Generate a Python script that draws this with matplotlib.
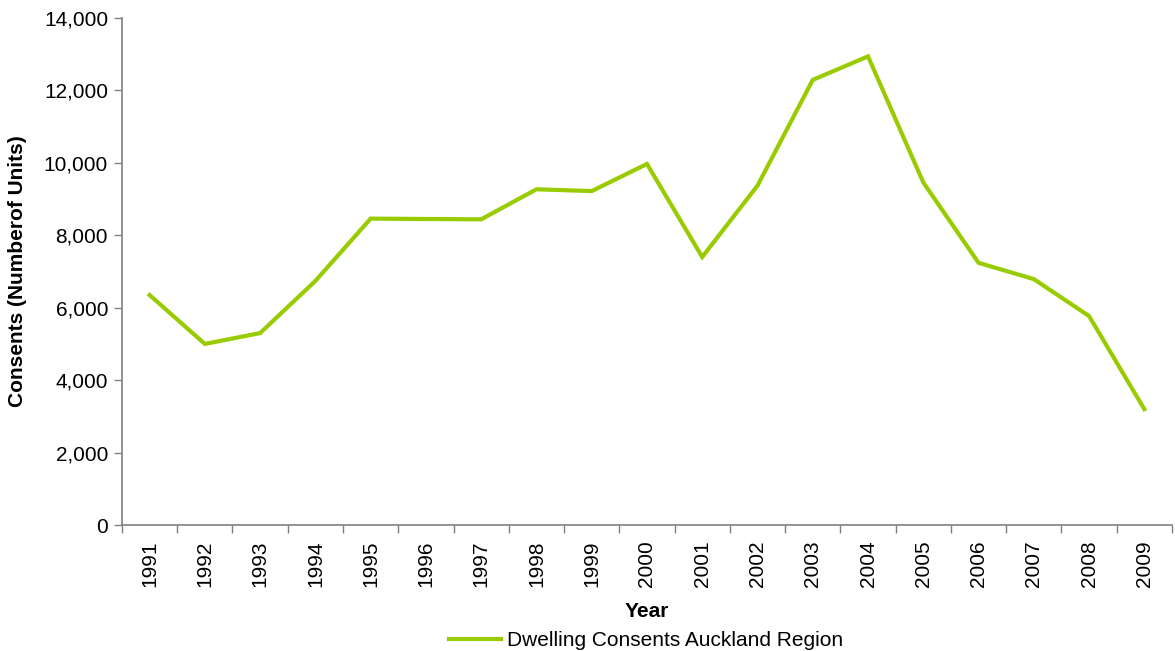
import matplotlib
matplotlib.use("Agg")
import matplotlib.pyplot as plt
from matplotlib.ticker import FuncFormatter, FixedLocator

years = [str(y) for y in range(1991, 2010)]
consents = [6350, 5000, 5300, 6740, 8460, 8450, 8440, 9270, 9220, 9970,
            7400, 9370, 12290, 12940, 9460, 7240, 6790, 5770, 3200]

plt.rcParams["font.family"] = ["Liberation Sans", "DejaVu Sans"]

fig = plt.figure(figsize=(11.75, 6.51), dpi=100)
ax = fig.add_axes([0.1038, 0.1935, 0.8936, 0.7789])

x = list(range(len(years)))
line, = ax.plot(x, consents, color="#99CC00", linewidth=3,
                solid_joinstyle="miter", label="Dwelling Consents Auckland Region")

ax.set_xlim(-0.5, len(years) - 0.5)
ax.set_ylim(0, 14000)
ax.set_yticks(range(0, 14001, 2000))
ax.yaxis.set_major_formatter(FuncFormatter(lambda v, p: f"{int(v):,}"))

ax.set_xticks(x)
ax.set_xticklabels(years, rotation=90)
ax.xaxis.set_minor_locator(FixedLocator([i - 0.5 for i in range(len(years) + 1)]))
ax.tick_params(axis="x", which="major", length=0, pad=11, labelsize=15)
ax.tick_params(axis="x", which="minor", length=6, width=1, color="#808080")
ax.tick_params(axis="y", length=6, width=1, color="#808080", labelsize=15, pad=4)

for side in ("top", "right"):
    ax.spines[side].set_visible(False)
for side in ("left", "bottom"):
    ax.spines[side].set_color("#808080")
    ax.spines[side].set_linewidth(1.2)

ax.set_xlabel("Year", fontsize=15, fontweight="bold", labelpad=11)
ax.set_ylabel("Consents (Numberof Units)", fontsize=15, fontweight="bold", labelpad=12)

fig.legend(handles=[line], loc="lower center", bbox_to_anchor=(0.55, -0.027),
           frameon=False, fontsize=15, handlelength=2.5, handletextpad=0.3)

fig.savefig("out.png", dpi=100)
